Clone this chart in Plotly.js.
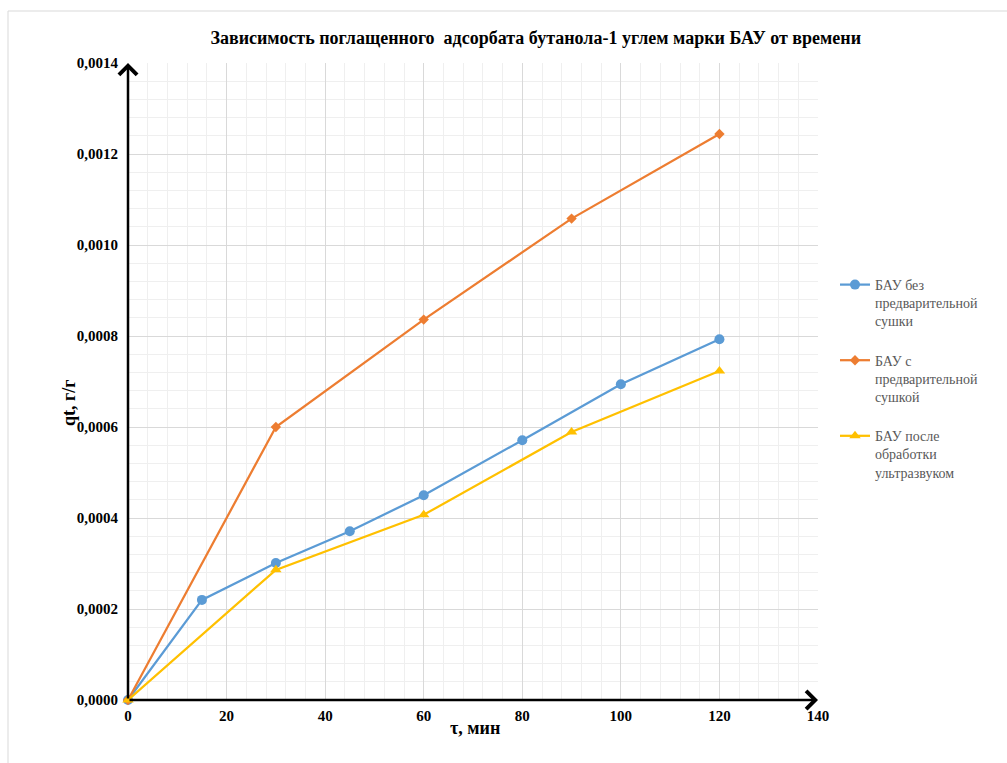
<!DOCTYPE html>
<html>
<head>
<meta charset="utf-8">
<script src="https://cdn.plot.ly/plotly-3.0.1.min.js"></script>
<style>
  html, body { margin: 0; padding: 0; background: #ffffff; }
  #chart { width: 1007px; height: 763px; }
</style>
</head>
<body>
<div id="chart"></div>
<script>
// Время контакта, мин
const timeNoDry = [0, 15, 30, 45, 60, 80, 100, 120];
const qtNoDry = [0, 0.00022, 0.000301, 0.000371, 0.00045, 0.000571, 0.000694, 0.000793];

const timeDry = [0, 30, 60, 90, 120];
const qtDry = [0, 0.0006, 0.000836, 0.001058, 0.001244];

const timeUltrasound = [0, 30, 60, 90, 120];
const qtUltrasound = [0, 0.000286, 0.000407, 0.000589, 0.000723];

const seriesNames = [
  'БАУ без<br>предварительной<br>сушки',
  'БАУ с<br>предварительной<br>сушкой',
  'БАУ после<br>обработки<br>ультразвуком'
];

const xRange = [0, 140];
const yRange = [0, 0.0014];

const serif = 'Liberation Serif, Times New Roman, serif';

const traces = [
  {
    x: timeNoDry, y: qtNoDry, name: seriesNames[0], legendgroup: 'a',
    mode: 'lines+markers', type: 'scatter', cliponaxis: false,
    line: { color: '#5B9BD5', width: 2.25 },
    marker: { symbol: 'circle', size: 10, color: '#5B9BD5' }
  },
  {
    x: timeDry, y: qtDry, name: seriesNames[1], legendgroup: 'b',
    mode: 'lines+markers', type: 'scatter', cliponaxis: false,
    line: { color: '#ED7D31', width: 2.25 },
    marker: { symbol: 'diamond', size: 8, color: '#ED7D31' }
  },
  {
    x: timeUltrasound, y: qtUltrasound, name: seriesNames[2], legendgroup: 'c',
    mode: 'lines+markers', type: 'scatter', cliponaxis: false,
    line: { color: '#FFC000', width: 2.25 },
    marker: { symbol: 'triangle-up', size: 10, color: '#FFC000' }
  }
];

const L = 128, R = 189, T = 63, B = 63, W = 1007, H = 763;
const pw = W - L - R, ph = H - T - B;
const px = v => (v - L) / pw;        // пиксели -> доли области построения
const py = v => (H - B - v) / ph;

const layout = {
  width: W, height: H,
  margin: { l: L, r: R, t: T, b: B },
  paper_bgcolor: '#ffffff',
  plot_bgcolor: '#ffffff',
  separators: ', ',
  showlegend: true,
  font: { family: serif, color: '#000000' },
  title: {
    text: '<b>Зависимость поглащенного  адсорбата бутанола-1 углем марки БАУ от времени</b>',
    font: { family: serif, size: 18, color: '#000000' },
    xref: 'container', x: 0.532, xanchor: 'center',
    yref: 'container', y: 1 - 38 / H, yanchor: 'middle'
  },
  xaxis: {
    range: xRange, dtick: 20, tick0: 0,
    showgrid: true, gridcolor: '#d9d9d9', gridwidth: 1,
    minor: { dtick: 4, showgrid: true, gridcolor: '#efefef', gridwidth: 1 },
    zeroline: false, showline: false, ticks: '',
    ticklabelstandoff: 5,
    tickfont: { family: serif, size: 15, color: '#000000', weight: 'bold' },
    fixedrange: true
  },
  yaxis: {
    range: yRange, dtick: 0.0002, tick0: 0, tickformat: '.4f',
    showgrid: true, gridcolor: '#d9d9d9', gridwidth: 1,
    minor: { dtick: 0.00004, showgrid: true, gridcolor: '#efefef', gridwidth: 1 },
    zeroline: false, showline: false, ticks: '',
    ticklabelstandoff: 9,
    tickfont: { family: serif, size: 15, color: '#000000', weight: 'bold' },
    fixedrange: true
  },
  legend: {
    xref: 'container', yref: 'container',
    x: 835 / W, y: 1 - 269 / H, xanchor: 'left', yanchor: 'top',
    valign: 'top', tracegroupgap: 18,
    bgcolor: 'rgba(0,0,0,0)',
    font: { family: serif, size: 14, color: '#595959' }
  },
  annotations: [
    // ось абсцисс со стрелкой
    { x: xRange[1], y: 0, ax: xRange[0], ay: 0, xref: 'x', yref: 'y', axref: 'x', ayref: 'y',
      text: '', showarrow: true, arrowhead: 4, arrowsize: 1.4, arrowwidth: 2.5, arrowcolor: '#000000', standoff: 0 },
    // ось ординат со стрелкой
    { x: 0, y: yRange[1], ax: 0, ay: yRange[0], xref: 'x', yref: 'y', axref: 'x', ayref: 'y',
      text: '', showarrow: true, arrowhead: 4, arrowsize: 1.4, arrowwidth: 2.5, arrowcolor: '#000000', standoff: 0 },
    { text: '<b>τ, мин</b>', xref: 'paper', yref: 'paper', x: px(475), y: py(740),
      showarrow: false, font: { family: serif, size: 18, color: '#000000' } },
    { text: '<b>qt, г/г</b>', xref: 'paper', yref: 'paper', x: px(57), y: py(403),
      textangle: -90, showarrow: false, font: { family: serif, size: 18, color: '#000000' } }
  ],
  shapes: [
    { type: 'rect', xref: 'paper', yref: 'paper',
      x0: px(8), x1: px(W + 10), y0: py(H + 10), y1: py(11),
      line: { color: '#d9d9d9', width: 1 }, fillcolor: 'rgba(0,0,0,0)', layer: 'below' }
  ]
};

Plotly.newPlot('chart', traces, layout, { displayModeBar: false, staticPlot: true });
</script>
</body>
</html>
